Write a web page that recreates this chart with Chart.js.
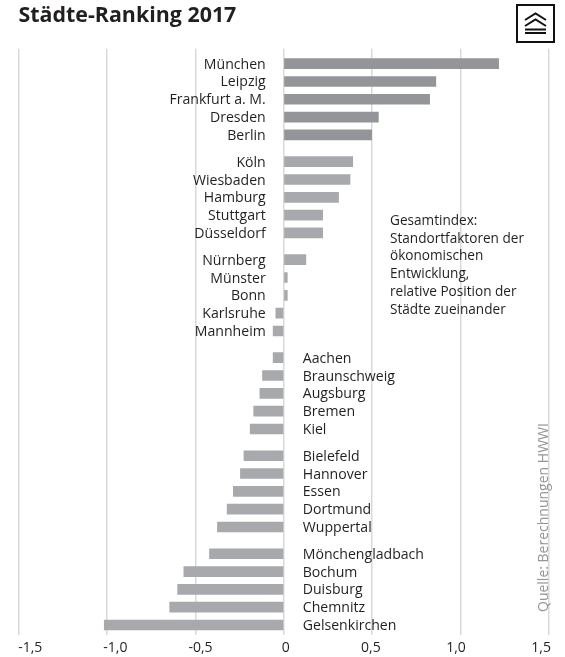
<!DOCTYPE html>
<html lang="de">
<head>
<meta charset="utf-8">
<title>Städte-Ranking 2017</title>
<script src="https://cdn.jsdelivr.net/npm/chart.js@4"></script>
<style>
  html, body { margin: 0; padding: 0; background: #fff; }
  #wrap { position: relative; width: 565px; height: 657px; overflow: hidden; }
  #badge { position: absolute; left: 516px; top: 4px; width: 35px; height: 35px; border: 2px solid #111; background: #fff; }
</style>
</head>
<body>
<div id="wrap">
  <canvas id="chart" width="565" height="657"></canvas>
  <div id="badge">
    <svg width="35" height="35" viewBox="0 0 35 35">
      <path d="M7 14 L17.5 7.5 L28 14 M7 20 L17.5 13.5 L28 20" fill="none" stroke="#111" stroke-width="2"/>
      <path d="M7 23.5 H28 M7 27 H28" fill="none" stroke="#111" stroke-width="2.2"/>
    </svg>
  </div>
</div>
<script>
const FONT = "'Open Sans', sans-serif";

// cities in rank order, five per group
const cities = [
  "München", "Leipzig", "Frankfurt a. M.", "Dresden", "Berlin",
  "Köln", "Wiesbaden", "Hamburg", "Stuttgart", "Düsseldorf",
  "Nürnberg", "Münster", "Bonn", "Karlsruhe", "Mannheim",
  "Aachen", "Braunschweig", "Augsburg", "Bremen", "Kiel",
  "Bielefeld", "Hannover", "Essen", "Dortmund", "Wuppertal",
  "Mönchengladbach", "Bochum", "Duisburg", "Chemnitz", "Gelsenkirchen",
];
const indexValues = [
  1.215, 0.86, 0.825, 0.535, 0.497,
  0.39, 0.375, 0.31, 0.22, 0.22,
  0.125, 0.02, 0.02, -0.045, -0.06,
  -0.06, -0.12, -0.135, -0.17, -0.19,
  -0.225, -0.245, -0.285, -0.32, -0.375,
  -0.42, -0.565, -0.6, -0.645, -1.015,
];
const xTickValues = [-1.5, -1, -0.5, 0, 0.5, 1, 1.5];
const xTickLabels = ["-1,5", "-1,0", "-0,5", "0", "0,5", "1,0", "1,5"];
const noteLines = [
  "Gesamtindex:",
  "Standortfaktoren der",
  "ökonomischen",
  "Entwicklung,",
  "relative Position der",
  "Städte zueinander",
];
const sourceText = "Quelle: Berechnungen HWWI";

const GROUP_SIZE = 5;
const GROUP_GAP = 0.5; // extra rows between groups
const LEFT_LABEL_ROWS = 15; // first half is labelled left of the zero line

const rowOf = i => i + Math.floor(i / GROUP_SIZE) * GROUP_GAP;

// city names sit beside the zero line, note and source are loose text
const textPlugin = {
  id: "chartText",
  afterDatasetsDraw(chart) {
    const { ctx, scales: { x, y } } = chart;
    const zero = x.getPixelForValue(0);
    ctx.save();
    ctx.fillStyle = "#231f20";
    ctx.font = "14.1px " + FONT;
    ctx.textBaseline = "middle";
    cities.forEach((name, i) => {
      const py = y.getPixelForValue(rowOf(i)) + 1;
      if (i < LEFT_LABEL_ROWS) {
        ctx.textAlign = "right";
        ctx.fillText(name, zero - 18, py);
      } else {
        ctx.textAlign = "left";
        ctx.fillText(name, zero + 19, py);
      }
    });
    ctx.textAlign = "left";
    ctx.font = "13.6px " + FONT;
    noteLines.forEach((line, i) => ctx.fillText(line, 390, 221 + i * 17.8));
    ctx.translate(544, 612);
    ctx.rotate(-Math.PI / 2);
    ctx.fillStyle = "#939598";
    ctx.font = "14px " + FONT;
    ctx.fillText(sourceText, 0, 0);
    ctx.restore();
  },
};

new Chart(document.getElementById("chart").getContext("2d"), {
  type: "bar",
  data: {
    datasets: [{
      data: indexValues.map((v, i) => ({ x: v, y: rowOf(i) })),
      backgroundColor: indexValues.map((v, i) => (i < GROUP_SIZE ? "#939598" : "#a7a9ac")),
      barThickness: 10,
      borderWidth: 0,
    }],
  },
  options: {
    indexAxis: "y",
    responsive: false,
    animation: false,
    layout: { padding: { left: 18.5, right: 16, top: 3, bottom: 0 } },
    scales: {
      x: {
        type: "linear",
        min: -1.5,
        max: 1.5,
        ticks: { display: false, stepSize: 0.5 },
        grid: { color: "#d9d9d9", lineWidth: 1.5, drawTicks: false },
        border: { display: false },
        afterFit: s => { s.height = 0; },
      },
      // the tick labels are squeezed inwards, so they get their own wider axis
      xLabels: {
        type: "linear",
        axis: "x",
        position: "bottom",
        min: -1.569,
        max: 1.546,
        afterBuildTicks: s => { s.ticks = xTickValues.map(value => ({ value })); },
        ticks: {
          maxRotation: 0,
          padding: 5,
          color: "#231f20",
          font: { family: FONT, size: 14 },
          callback: (v, i) => xTickLabels[i],
        },
        grid: { display: false, drawTicks: false },
        border: { display: false },
        afterFit: s => { s.height = 22; },
      },
      y: {
        type: "linear",
        reverse: true,
        offset: false,
        min: -0.84,
        max: 32.06,
        display: false,
      },
    },
    plugins: {
      legend: { display: false },
      tooltip: { enabled: false },
      title: {
        display: true,
        text: "Städte-Ranking 2017",
        align: "start",
        color: "#231f20",
        font: { family: FONT, size: 21.4, weight: "bold" },
        padding: { top: 0, bottom: 20 },
      },
    },
  },
  plugins: [textPlugin],
});
</script>
</body>
</html>
